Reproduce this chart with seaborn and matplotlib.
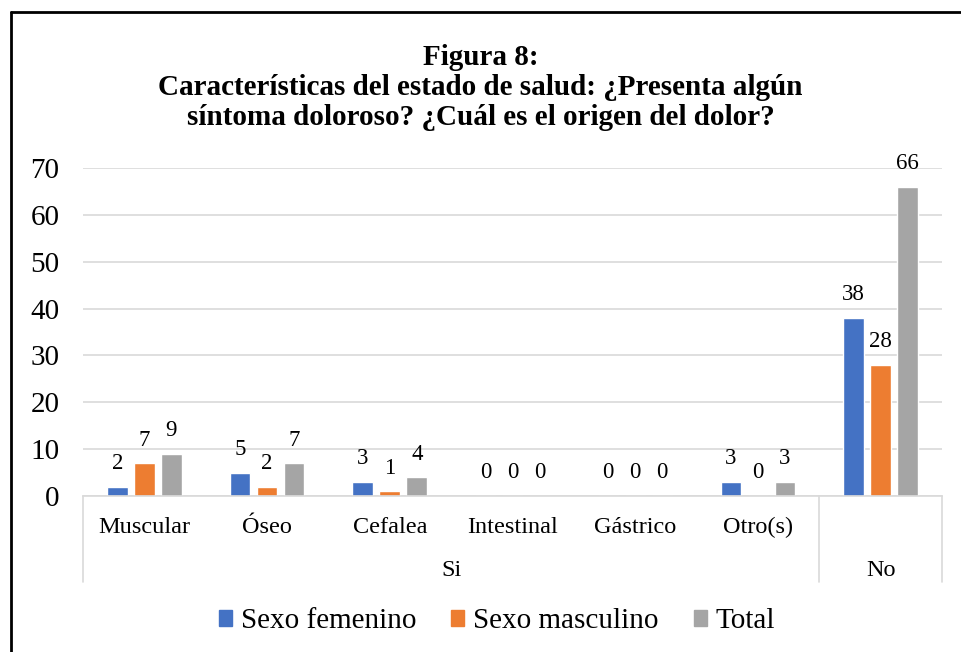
import numpy as np
import matplotlib
matplotlib.use('Agg')
import matplotlib.pyplot as plt
import matplotlib.transforms as mtransforms
import pandas as pd
import seaborn as sns

# data
categories = ['Muscular', 'Óseo', 'Cefalea', 'Intestinal', 'Gástrico', 'Otro(s)', 'No']
groups = ['Si', 'Si', 'Si', 'Si', 'Si', 'Si', 'No']
femenino = [2, 5, 3, 0, 0, 3, 38]
masculino = [7, 2, 1, 0, 0, 0, 28]
total = [9, 7, 4, 0, 0, 3, 66]
series = ['Sexo femenino', 'Sexo masculino', 'Total']
yticks = [0, 10, 20, 30, 40, 50, 60, 70]

rows = []
for name, vals in zip(series, [femenino, masculino, total]):
    for cat, v in zip(categories, vals):
        rows.append({'cat': cat, 'serie': name, 'valor': v})
df = pd.DataFrame(rows)

sns.set_style('white')
plt.rcParams['font.family'] = ['Liberation Serif', 'DejaVu Serif']
plt.rcParams['text.color'] = 'black'
plt.rcParams['xtick.color'] = 'black'
plt.rcParams['ytick.color'] = 'black'

colors = ['#4472C4', '#ED7D31', '#A5A5A5']
fig = plt.figure(figsize=(9.61, 6.52), dpi=100)
ax = fig.add_axes([0.0864, 0.2393, 0.8938, 0.5030])

sns.barplot(data=df, x='cat', y='valor', hue='serie', order=categories, hue_order=series,
            palette=colors, width=0.66, gap=0.23, ax=ax, legend=False, saturation=1)

ax.set_ylim(0, 70)
ax.set_xlim(-0.5, len(categories) - 0.5)
ax.set_yticks(yticks)
# the "No" category has no sub label, only the group label
ax.set_xticks(range(len(categories)))
ax.set_xticklabels([c if c != g else '' for c, g in zip(categories, groups)])
ax.tick_params(axis='y', labelsize=21, length=0, pad=17)
ax.tick_params(axis='x', labelsize=17.5, length=0, pad=15)
ax.yaxis.grid(True, color='#d9d9d9', linewidth=1.2)
ax.set_axisbelow(True)
for s in ['top', 'right', 'left']:
    ax.spines[s].set_visible(False)
ax.spines['bottom'].set_color('#d9d9d9')
ax.spines['bottom'].set_linewidth(1.2)
ax.set_xlabel('')
ax.set_ylabel('')

for cont in ax.containers:
    ax.bar_label(cont, fontsize=16.5, padding=9, color='black')

# group axis below the categories
trans = mtransforms.blended_transform_factory(ax.transData, ax.transAxes)
for xb in [-0.5, 5.5, 6.5]:
    ax.plot([xb, xb], [0, -0.262], transform=trans, color='#d9d9d9', lw=1.2, clip_on=False)
ax.text(2.5, -0.228, 'Si', transform=trans, ha='center', va='center', fontsize=17.5)
ax.text(6.0, -0.228, 'No', transform=trans, ha='center', va='center', fontsize=17.5)

# legend
handles = [plt.Rectangle((0, 0), 1, 1, color=c) for c in colors]
fig.legend(handles, series, loc='center', bbox_to_anchor=(0.517, 0.047), ncol=3, frameon=False,
           fontsize=21, handlelength=0.45, handleheight=0.45, handletextpad=0.3, columnspacing=1.2)

fig.text(0.5, 0.866, 'Figura 8:\nCaracterísticas del estado de salud: ¿Presenta algún\nsíntoma doloroso? ¿Cuál es el origen del dolor?',
         ha='center', va='center', fontsize=21, fontweight='bold', linespacing=1.13)

# outer border (top and left visible)
fig.add_artist(plt.Line2D([11 / 961, 11 / 961], [0, 1 - 12 / 652], transform=fig.transFigure, color='black', lw=2))
fig.add_artist(plt.Line2D([11 / 961, 1], [1 - 12 / 652, 1 - 12 / 652], transform=fig.transFigure, color='black', lw=2))

fig.savefig('out.png', dpi=100)
